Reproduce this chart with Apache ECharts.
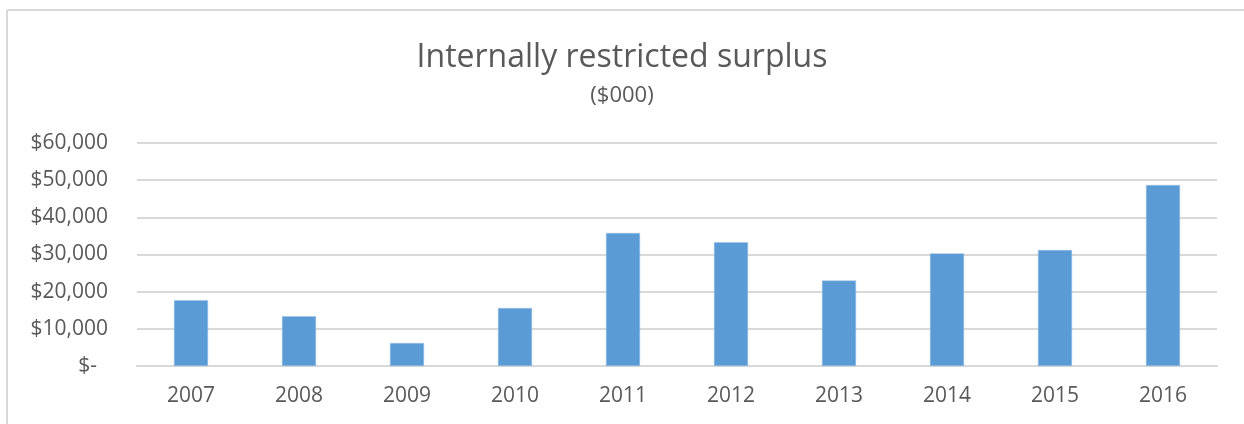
<!DOCTYPE html>
<html>
<head>
<meta charset="utf-8">
<script src="https://cdn.jsdelivr.net/npm/echarts@6/dist/echarts.min.js"></script>
<style>
html,body{margin:0;padding:0;background:#fff;}
#chart{width:1244px;height:424px;}
</style>
</head>
<body>
<div id="chart"></div>
<script>
const categories = ['2007','2008','2009','2010','2011','2012','2013','2014','2015','2016'];
const values = [17700, 13400, 6200, 15600, 35800, 33300, 23000, 30300, 31200, 48700];
const titleText = 'Internally restricted surplus';
const subtitleText = '($000)';

const fontFam = '"Open Sans", "Noto Sans", sans-serif';
const chart = echarts.init(document.getElementById('chart'));
chart.setOption({
  animation: false,
  backgroundColor: '#fff',
  title: {
    text: titleText,
    subtext: subtitleText,
    left: 'center',
    top: 37,
    itemGap: 11,
    textStyle: {fontFamily: fontFam, fontSize: 32, fontWeight: 'normal', color: '#595959'},
    subtextStyle: {fontFamily: fontFam, fontSize: 22, color: '#595959'}
  },
  graphic: [
    {type: 'line', shape: {x1: 7, y1: 10, x2: 1244, y2: 10}, style: {stroke: '#d9d9d9', lineWidth: 2}},
    {type: 'line', shape: {x1: 7, y1: 10, x2: 7, y2: 424}, style: {stroke: '#d9d9d9', lineWidth: 2}}
  ],
  grid: {left: 137, right: 27, top: 143, bottom: 58, containLabel: false},
  xAxis: {
    type: 'category',
    data: categories,
    axisLine: {show: true, lineStyle: {color: '#d9d9d9', width: 2}},
    axisTick: {show: false},
    axisLabel: {fontFamily: fontFam, fontSize: 21, color: '#595959', margin: 20}
  },
  yAxis: {
    type: 'value',
    min: 0, max: 60000, interval: 10000,
    axisLine: {show: false},
    axisTick: {show: false},
    splitLine: {lineStyle: {color: '#d9d9d9', width: 2}},
    axisLabel: {
      fontFamily: fontFam, fontSize: 21, color: '#595959', margin: 29,
      formatter: function (v) {
        if (v === 0) return '{z|$-}';
        return '$' + v.toLocaleString('en-US');
      },
      rich: {z: {fontFamily: fontFam, fontSize: 21, color: '#595959', padding: [0, 11, 0, 0]}}
    }
  },
  series: [{
    type: 'bar',
    data: values,
    barWidth: '31.5%',
    itemStyle: {color: '#5b9bd5', borderColor: '#9dc3e6', borderWidth: 0.5}
  }]
});
</script>
</body>
</html>
